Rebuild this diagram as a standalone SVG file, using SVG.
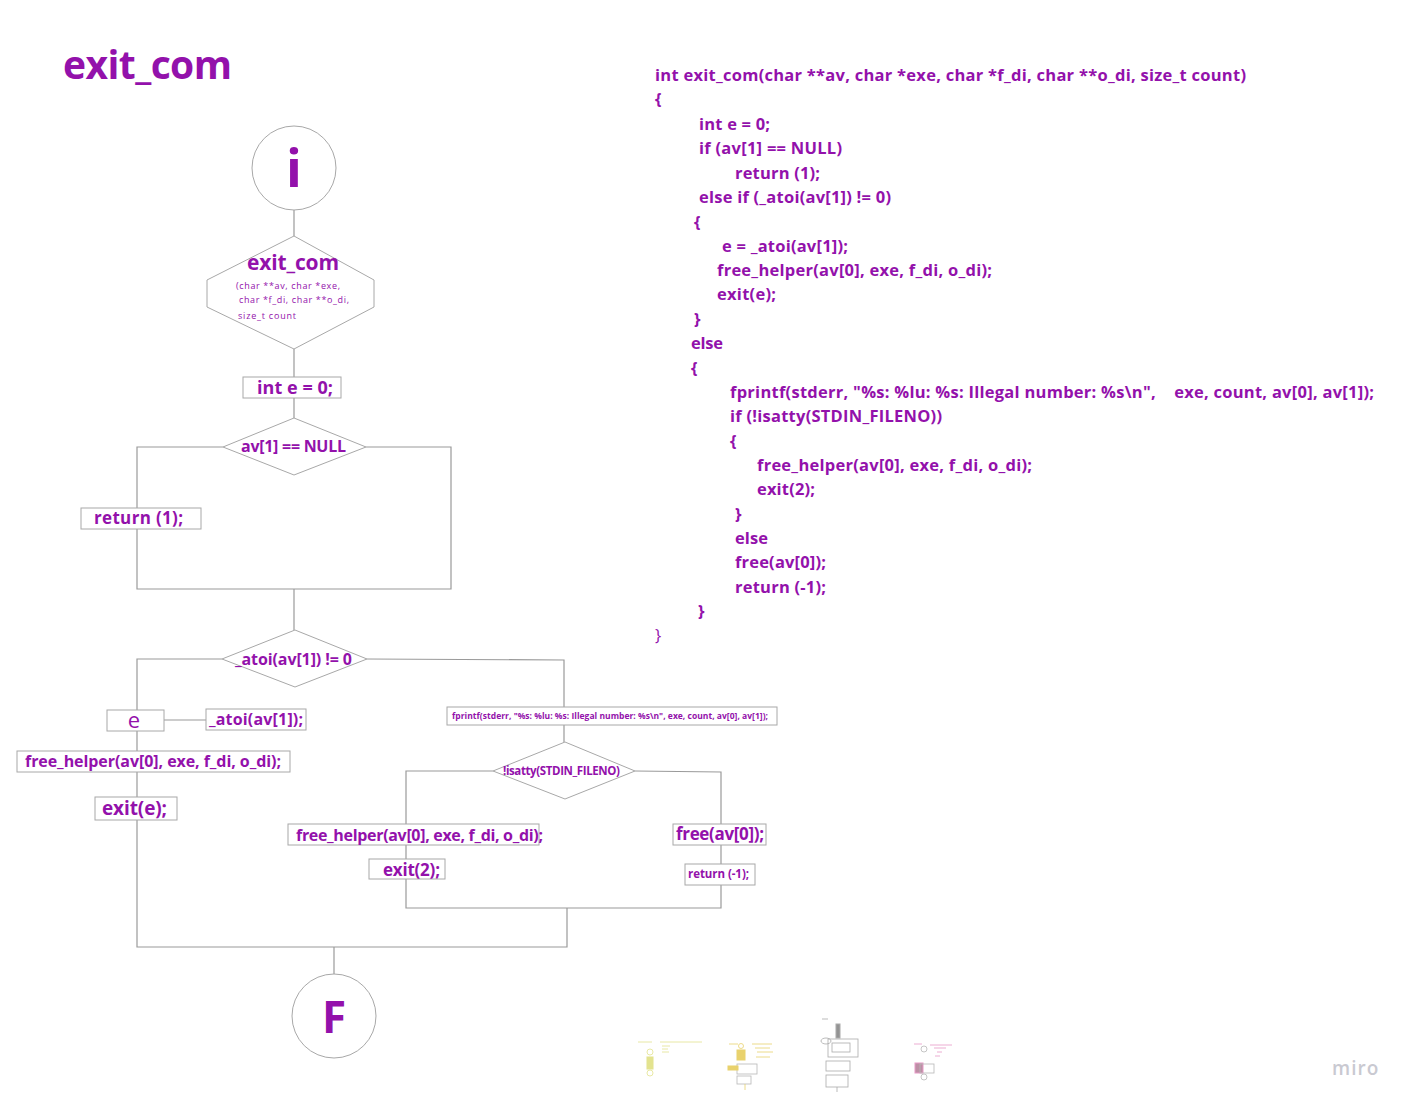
<svg xmlns="http://www.w3.org/2000/svg" width="1410" height="1108" viewBox="0 0 1410 1108">
<style>
.t{font-family:"Open Sans","Liberation Sans",sans-serif;fill:#9311ab;font-weight:700}
.c{font-family:"Open Sans","Liberation Sans",sans-serif;fill:#9311ab;font-weight:700;font-size:16.5px}
.r{font-weight:400}
.n{fill:#fff;stroke:#a8a8a8;stroke-width:1}
.l{fill:none;stroke:#9a9a9a;stroke-width:1.2}
.m{fill:none;stroke-width:0.8}
</style>
<rect width="1410" height="1108" fill="#fff"/>
<text class="t" x="63" y="79" font-size="39" textLength="169">exit_com</text>

<g id="connectors">
<path class="l" d="M294 210V236"/>
<path class="l" d="M294 349V377"/>
<path class="l" d="M294 398V418"/>
<path class="l" d="M223 447H137V589H451V447H366"/>
<path class="l" d="M294 589V630"/>
<path class="l" d="M222 659H137V710"/>
<path class="l" d="M164 720H206"/>
<path class="l" d="M137 731V751"/>
<path class="l" d="M137 772V797"/>
<path class="l" d="M137 820V947H567V908"/>
<path class="l" d="M367 659L564 660V707"/>
<path class="l" d="M564 725V742"/>
<path class="l" d="M493 771H406V824"/>
<path class="l" d="M406 845V859"/>
<path class="l" d="M406 879V908H721V885"/>
<path class="l" d="M635 771L721 772V824"/>
<path class="l" d="M721 845V864"/>
<path class="l" d="M334 947V975"/>
</g>

<g id="start">
<circle class="n" cx="294" cy="168" r="42"/>
<text class="t" x="294" y="187" font-size="52" text-anchor="middle">i</text>
</g>
<g id="func">
<polygon class="n" points="294,236 374,280 374,307 294,349 207,307 207,280"/>
<text class="t" x="247" y="270" font-size="21" textLength="92">exit_com</text>
<text class="t r" x="236" y="289" font-size="9" textLength="104">(char **av, char *exe,</text>
<text class="t r" x="239" y="303" font-size="9" textLength="110">char *f_di, char **o_di,</text>
<text class="t r" x="238" y="319" font-size="9" textLength="58">size_t count</text>
</g>
<g id="inite">
<rect class="n" x="243" y="377" width="98" height="21"/>
<text class="t" x="257" y="394" font-size="18" textLength="76">int e = 0;</text>
</g>
<g id="ifnull">
<polygon class="n" points="294,418 366,447 294,475 223,447"/>
<text class="t" x="241" y="452" font-size="16" textLength="105">av[1] == NULL</text>
</g>
<g id="ret1">
<rect class="n" x="81" y="508" width="120" height="21"/>
<text class="t" x="94" y="524" font-size="17" textLength="89">return (1);</text>
</g>
<g id="ifatoi">
<polygon class="n" points="295,630 367,659 295,687 222,659"/>
<text class="t" x="235" y="665" font-size="16" textLength="117">_atoi(av[1]) != 0</text>
</g>
<g id="e">
<rect class="n" x="107" y="710" width="57" height="21"/>
<text class="t r" x="134" y="728" font-size="22" text-anchor="middle">e</text>
</g>
<g id="atoi">
<rect class="n" x="206" y="709" width="100" height="21"/>
<text class="t" x="209" y="725" font-size="16" textLength="94">_atoi(av[1]);</text>
</g>
<g id="free1">
<rect class="n" x="17" y="751" width="273" height="21"/>
<text class="t" x="25" y="767" font-size="16" textLength="256">free_helper(av[0], exe, f_di, o_di);</text>
</g>
<g id="exite">
<rect class="n" x="95" y="797" width="82" height="23"/>
<text class="t" x="102" y="815" font-size="19" textLength="65">exit(e);</text>
</g>
<g id="fprintf">
<rect class="n" x="447" y="707" width="330" height="18"/>
<text class="t" x="452" y="719" font-size="8.5" textLength="316">fprintf(stderr, "%s: %lu: %s: Illegal number: %s\n", exe, count, av[0], av[1]);</text>
</g>
<g id="isatty">
<polygon class="n" points="565,742 635,771 565,799 493,771"/>
<text class="t" x="503" y="775" font-size="11.5" textLength="117">!isatty(STDIN_FILENO)</text>
</g>
<g id="free2">
<rect class="n" x="288" y="824" width="251" height="21"/>
<text class="t" x="296" y="841" font-size="16" textLength="247">free_helper(av[0], exe, f_di, o_di);</text>
</g>
<g id="exit2">
<rect class="n" x="369" y="859" width="76" height="20"/>
<text class="t" x="383" y="876" font-size="17" textLength="57">exit(2);</text>
</g>
<g id="free3">
<rect class="n" x="673" y="824" width="93" height="21"/>
<text class="t" x="676" y="840" font-size="17" textLength="88">free(av[0]);</text>
</g>
<g id="retm1">
<rect class="n" x="685" y="864" width="70" height="21"/>
<text class="t" x="688" y="878" font-size="11.5" textLength="61">return (-1);</text>
</g>
<g id="end">
<circle class="n" cx="334" cy="1016" r="42"/>
<text class="t" x="334" y="1033" font-size="44" text-anchor="middle">F</text>
</g>

<g id="code">
<text class="c" x="655" y="81" textLength="591">int exit_com(char **av, char *exe, char *f_di, char **o_di, size_t count)</text>
<text class="c" x="655" y="105">{</text>
<text class="c" x="699" y="130" textLength="71">int e = 0;</text>
<text class="c" x="699" y="154" textLength="143">if (av[1] == NULL)</text>
<text class="c" x="735" y="179" textLength="85">return (1);</text>
<text class="c" x="699" y="203" textLength="192">else if (_atoi(av[1]) != 0)</text>
<text class="c" x="694" y="228">{</text>
<text class="c" x="722" y="252" textLength="126">e = _atoi(av[1]);</text>
<text class="c" x="717" y="276" textLength="275">free_helper(av[0], exe, f_di, o_di);</text>
<text class="c" x="717" y="300" textLength="59">exit(e);</text>
<text class="c" x="694" y="325">}</text>
<text class="c" x="691" y="349" textLength="32">else</text>
<text class="c" x="691" y="374">{</text>
<text class="c" x="730" y="398" xml:space="preserve" textLength="644">fprintf(stderr, "%s: %lu: %s: Illegal number: %s\n",    exe, count, av[0], av[1]);</text>
<text class="c" x="730" y="422" textLength="212">if (!isatty(STDIN_FILENO))</text>
<text class="c" x="730" y="447">{</text>
<text class="c" x="757" y="471" textLength="275">free_helper(av[0], exe, f_di, o_di);</text>
<text class="c" x="757" y="495" textLength="58">exit(2);</text>
<text class="c" x="735" y="520">}</text>
<text class="c" x="735" y="544" textLength="33">else</text>
<text class="c" x="735" y="568" textLength="91">free(av[0]);</text>
<text class="c" x="735" y="593" textLength="91">return (-1);</text>
<text class="c" x="698" y="617">}</text>
<text class="c r" x="655" y="641">}</text>
</g>

<g id="minimap" opacity="0.7">
<g stroke="#d8d860">
<path class="m" d="M638 1042H652M660 1042H702M662 1046H670M662 1049H668M662 1052H669"/>
<circle class="m" cx="650" cy="1052" r="3"/>
<rect x="647" y="1057" width="6" height="12" fill="#d8d860"/>
<circle class="m" cx="650" cy="1073" r="3"/>
</g>
<g stroke="#e0c030">
<path class="m" d="M729 1044H738M752 1044H772M755 1048H770M757 1052H773M756 1057H770"/>
<circle class="m" cx="741" cy="1046" r="2.5"/>
<rect x="737" y="1050" width="8" height="10" fill="#e0c030"/>
<rect class="m" x="737" y="1064" width="20" height="10" stroke="#999"/>
<rect x="728" y="1066" width="10" height="4" fill="#e0c030"/>
<rect class="m" x="737" y="1076" width="14" height="8" stroke="#999"/>
<path class="m" d="M745 1084V1090"/>
</g>
<g stroke="#888">
<rect x="836" y="1024" width="4" height="14" fill="#666"/>
<rect class="m" x="828" y="1039" width="30" height="18"/>
<rect class="m" x="832" y="1043" width="18" height="9"/>
<ellipse class="m" cx="826" cy="1041" rx="5" ry="3"/>
<rect class="m" x="826" y="1061" width="24" height="10"/>
<rect class="m" x="826" y="1075" width="22" height="12"/>
<path class="m" d="M837 1087V1092M822 1019H828"/>
</g>
<g stroke="#e070b0">
<path class="m" d="M914 1044H922M930 1045H952M934 1048H946M937 1052H942M935 1056H940"/>
<circle class="m" cx="924" cy="1049" r="3" stroke="#999"/>
<rect x="915" y="1063" width="8" height="10" fill="#a06080"/>
<rect class="m" x="920" y="1064" width="14" height="9" stroke="#999"/>
<circle class="m" cx="924" cy="1077" r="3" stroke="#999"/>
</g>
</g>
<text x="1332" y="1075" font-family="Open Sans,Liberation Sans,sans-serif" font-size="19" font-weight="600" fill="#c9c9d1" letter-spacing="1">miro</text>
</svg>
